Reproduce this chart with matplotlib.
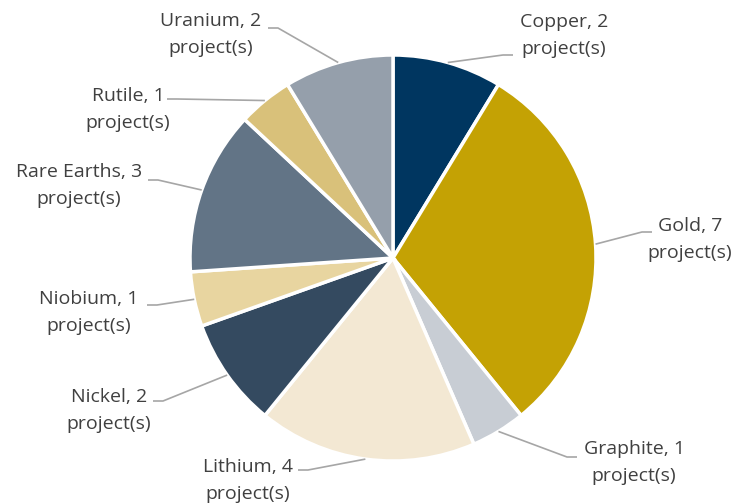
import numpy as np
import matplotlib.pyplot as plt

# data
minerals = ["Copper", "Gold", "Graphite", "Lithium", "Nickel",
            "Niobium", "Rare Earths", "Rutile", "Uranium"]
projects = [2, 7, 1, 4, 2, 1, 3, 1, 2]
colors = ["#003660", "#C4A204", "#C8CDD4", "#F3E8D3", "#344A60",
          "#E8D5A0", "#627486", "#D9C17A", "#959FAB"]

# label layout in pixel coords (text centre x, first line y, stub start x, stub start y, stub direction)
label_layout = {
    "Copper":      (564, 22, 513, 55, -1),
    "Gold":        (690, 226, 652, 232, -1),
    "Graphite":    (634, 449, 577, 457, -1),
    "Lithium":     (248, 467, 298, 470, 1),
    "Nickel":      (109, 397, 153, 401, 1),
    "Niobium":     (89, 299, 147, 305, 1),
    "Rare Earths": (79, 172, 148, 180, 1),
    "Rutile":      (128, 96, 167, 99, 1),
    "Uranium":     (211, 21, 268, 28, 1),
}

W, H = 738, 504
cx, cy, r = 393, 258, 203

fig = plt.figure(figsize=(W / 100, H / 100), dpi=100)
ax = fig.add_axes([0, 0, 1, 1])

# y axis is inverted, so counterclock=True gives a clockwise pie on screen
# and startangle=-90 puts the first wedge at the top
wedges, _ = ax.pie(projects, colors=colors, center=(cx, cy), radius=r,
                   startangle=-90, counterclock=True, frame=True,
                   wedgeprops=dict(edgecolor="white", linewidth=2.5))
ax.set_xlim(0, W)
ax.set_ylim(H, 0)
ax.set_aspect("equal")
ax.axis("off")

for w, name, n in zip(wedges, minerals, projects):
    mid = np.deg2rad((w.theta1 + w.theta2) / 2)
    axx = cx + r * np.cos(mid)
    axy = cy + r * np.sin(mid)
    tx, ty, sx, sy, d = label_layout[name]
    ex = sx + 10 * d
    ax.plot([sx, ex, axx], [sy, sy, axy], color="#A6A6A6", lw=1.2,
            solid_capstyle="butt")
    ax.text(tx, ty, f"{name}, {n}", ha="center", va="center",
            fontsize=14, family="Open Sans", color="#404040")
    ax.text(tx, ty + 27, "project(s)", ha="center", va="center",
            fontsize=14, family="Open Sans", color="#404040")

fig.savefig("out.png", dpi=100)
